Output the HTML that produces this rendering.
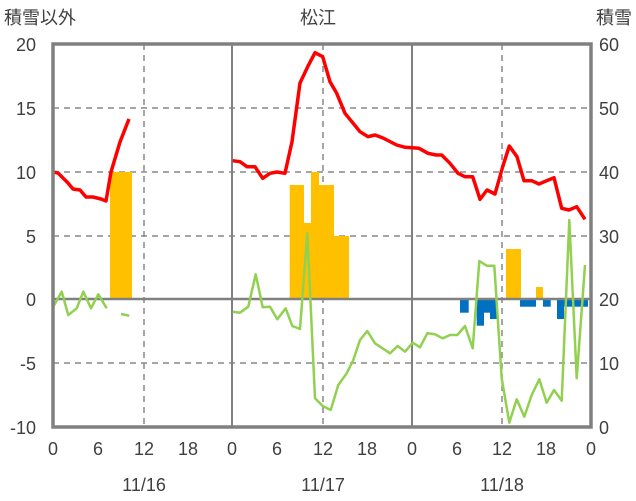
<!DOCTYPE html><html><head><meta charset="utf-8"><style>body{margin:0;background:#fff}svg{display:block}text{font-family:"Liberation Sans","Noto Sans CJK JP",sans-serif;fill:#404040;font-size:18px}</style></head><body>
<svg width="636" height="501" viewBox="0 0 636 501">
<g stroke="#888" stroke-width="1.5" stroke-dasharray="6,5">
<line x1="53" y1="108" x2="591" y2="108"/><line x1="53" y1="172" x2="591" y2="172"/><line x1="53" y1="236" x2="591" y2="236"/><line x1="53" y1="363" x2="591" y2="363"/>
<line x1="144" y1="44" x2="144" y2="427"/><line x1="323" y1="44" x2="323" y2="427"/><line x1="502" y1="44" x2="502" y2="427"/>
</g>
<g stroke="#808080" stroke-width="2"><line x1="232" y1="44" x2="232" y2="427"/><line x1="412" y1="44" x2="412" y2="427"/></g>
<g fill="#FFC000">
<rect x="110" y="172" width="22" height="127"/>
<rect x="289.7" y="185" width="14.3" height="114"/><rect x="304" y="223" width="7" height="76"/><rect x="311" y="172" width="8" height="127"/><rect x="319" y="185" width="15" height="114"/><rect x="334" y="236" width="15" height="63"/>
<rect x="506" y="249" width="15" height="50"/><rect x="536" y="287" width="7" height="12"/>
</g>
<g fill="#0070C0">
<rect x="460" y="299" width="8.7" height="13.7"/><rect x="476.7" y="299" width="7.3" height="26.7"/><rect x="484" y="299" width="6" height="13.7"/><rect x="490" y="299" width="6.7" height="20"/><rect x="520" y="299" width="16" height="7.7"/><rect x="543" y="299" width="7.7" height="7.7"/><rect x="557" y="299" width="7" height="20"/><rect x="564" y="299" width="16" height="7.7"/><rect x="580" y="299" width="8" height="7.7"/>
</g>
<line x1="53" y1="299" x2="591" y2="299" stroke="#808080" stroke-width="2.5"/>
<g fill="none" stroke="#92D050" stroke-width="2.5" stroke-linejoin="round">
<polyline points="53.3,306.7 61.7,291.7 68.3,315 76.7,308.3 83.3,291.7 91,308.3 98.3,294.3 106.7,308.3"/>
<polyline points="121,314 129.3,315.7"/>
<polyline points="232.7,311.7 240,312.7 248.3,306.7 255.7,274.3 262.7,307.3 270,306.7 277.3,319.3 285.7,308.3 292.3,326 300,329 307.3,233.3 315,398.3 322.7,406 330.7,410 338.3,385 346.7,373.3 353.3,360 360,340 367.3,331 375,343.3 390,353.3 397.7,346 405,351.7 412.7,342.7 420,347.3 427.3,333.3 435,334.3 442.7,338.3 450,335 457.3,335 465,326 472.7,348.3 479.3,261 486.7,265.7 494.3,265.7 501.7,378.3 509.3,422.7 516.7,399.3 524.3,416.7 531.7,395 539.3,379.3 546.7,402.7 554,390 561.7,400.7 569.3,220 576.7,378.3 585,265"/>
</g>
<g fill="none" stroke="#FF0000" stroke-width="3.5" stroke-linejoin="round">
<polyline points="53,172 58,173 63,178 68,183 73,189 80,190 86,197 93,197 101,199 106,201 111,172 120,142 129,119"/>
<polyline points="232.7,160.7 240,161.7 247,166.7 255,166.7 262.7,178.3 270,173.3 277,172 285,173.3 292,141.7 300,83 307.7,66.7 315,52.7 322.7,56.7 330,81.7 336.7,93.3 345,113.3 360,131.7 368,136.7 375,135 383,138 396.7,145 405,147.3 419,148.3 428,153.3 436,155 441.7,155 450,163.3 458,173.3 465,176.7 472.7,176.7 480,199.3 487,190 495,194 502.7,166.7 509.3,146 517,156.7 524,180.7 531.7,180.7 539,184 546.7,180.7 554,177.7 561.7,208.3 569,210 576.7,206.7 585,219.3"/>
</g>
<rect x="53" y="44" width="538" height="383" fill="none" stroke="#808080" stroke-width="3.5"/>
<g text-anchor="end"><text x="36" y="51">20</text><text x="36" y="115">15</text><text x="36" y="179">10</text><text x="36" y="243">5</text><text x="36" y="306">0</text><text x="36" y="370">-5</text><text x="36" y="434">-10</text></g>
<g><text x="599" y="51">60</text><text x="599" y="115">50</text><text x="599" y="179">40</text><text x="599" y="243">30</text><text x="599" y="306">20</text><text x="599" y="370">10</text><text x="599" y="434">0</text></g>
<g text-anchor="middle">
<text x="53" y="455">0</text><text x="98" y="455">6</text><text x="144" y="455">12</text><text x="188" y="455">18</text>
<text x="232" y="455">0</text><text x="277" y="455">6</text><text x="323" y="455">12</text><text x="367" y="455">18</text>
<text x="412" y="455">0</text><text x="457" y="455">6</text><text x="502" y="455">12</text><text x="546" y="455">18</text><text x="591" y="455">0</text>
<text x="144" y="491">11/16</text><text x="323" y="491">11/17</text><text x="502" y="491">11/18</text>
<text x="318" y="24">松江</text></g>
<text x="4" y="24">積雪以外</text><text x="632" y="24" text-anchor="end">積雪</text>
</svg></body></html>
